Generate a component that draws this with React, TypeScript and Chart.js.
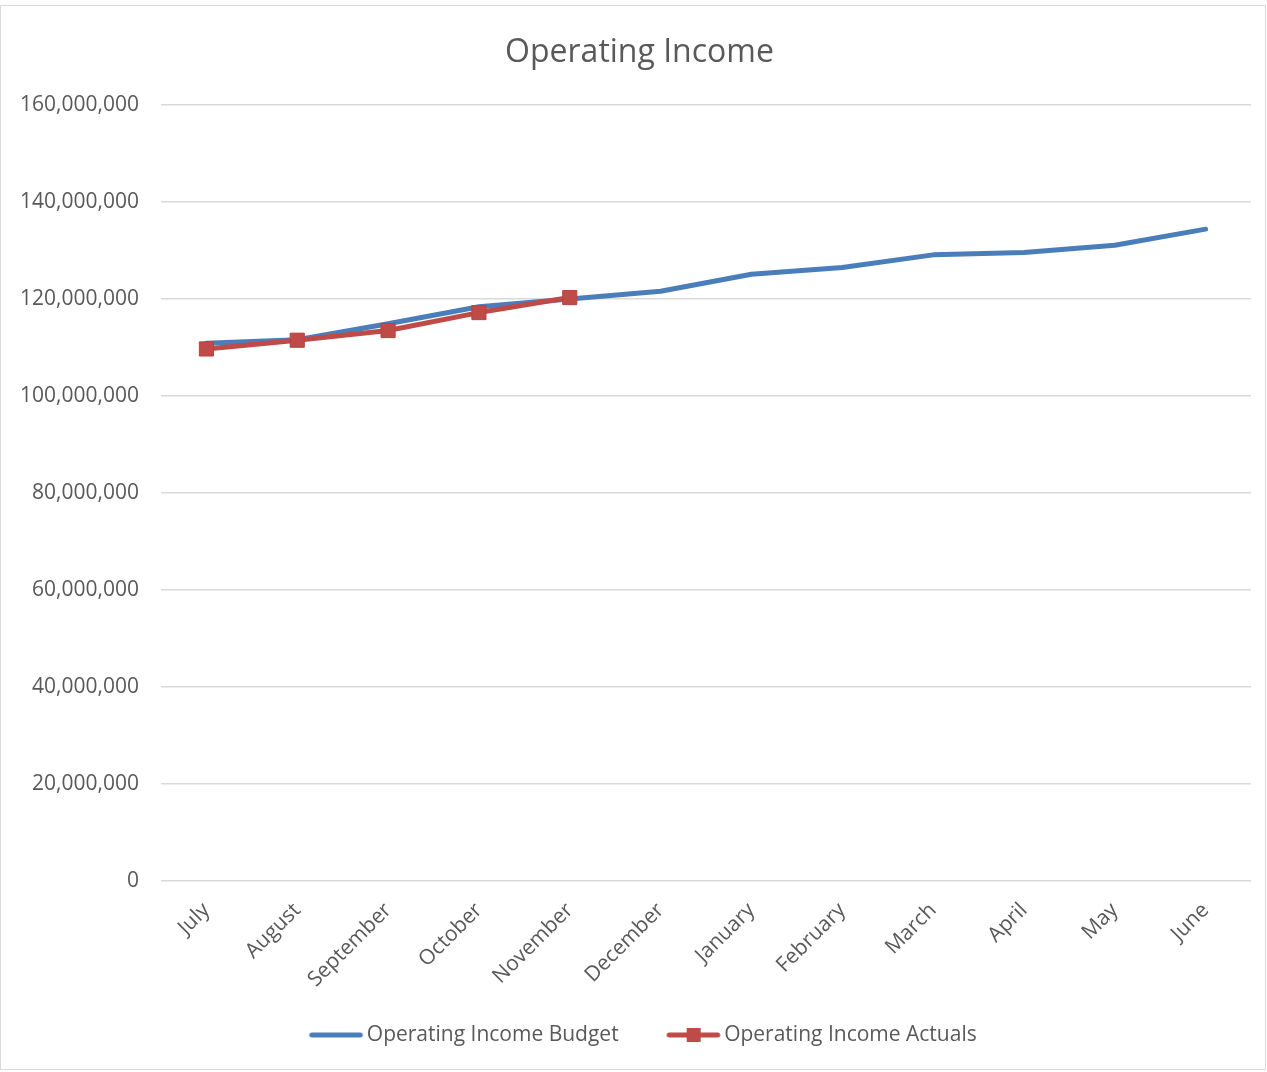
import { useEffect, useRef } from "react";
import { Chart, registerables } from "chart.js";

Chart.register(...registerables);

// values in units
const months = [
  "July", "August", "September", "October", "November", "December",
  "January", "February", "March", "April", "May", "June",
];
const budget = [
  110900000, 111600000, 114900000, 118400000, 120000000, 121600000,
  125100000, 126500000, 129100000, 129600000, 131100000, 134400000,
];
const actuals = [
  109700000, 111500000, 113500000, 117200000, 120300000,
  null, null, null, null, null, null, null,
];
const seriesNames = ["Operating Income Budget", "Operating Income Actuals"];

const BLUE = "#4a7ebb";
const RED = "#be4b48";
const TEXT = "#595959";
const FONT = "'Open Sans', sans-serif";

// legend swatch: line (with optional square marker), drawn off-centre so the
// gap between legend entries looks like Excel's
function legendIcon(color: string, marker: boolean) {
  const c = document.createElement("canvas");
  c.width = 70;
  c.height = 16;
  const g = c.getContext("2d")!;
  g.strokeStyle = color;
  g.lineWidth = 5;
  g.lineCap = "round";
  g.beginPath();
  g.moveTo(17.5, 8);
  g.lineTo(66, 8);
  g.stroke();
  if (marker) {
    g.fillStyle = color;
    g.fillRect(35, 1, 14, 14);
  }
  return c;
}

// tick labels hang outside their axis box; don't clip them
const noLabelClip = {
  id: "noLabelClip",
  beforeDraw(c: any) {
    Object.values(c.scales).forEach((s: any) => {
      s._computeLabelArea = () => undefined;
    });
  },
};

export default function App() {
  const canvasRef = useRef<HTMLCanvasElement>(null);

  useEffect(() => {
    if (!canvasRef.current) return;
    const icons = [legendIcon(BLUE, false), legendIcon(RED, true)];

    const chart = new Chart(canvasRef.current, {
      type: "line",
      data: {
        labels: months,
        datasets: [
          {
            label: seriesNames[0],
            data: budget,
            borderColor: BLUE,
            backgroundColor: BLUE,
            borderWidth: 5,
            borderCapStyle: "round",
            borderJoinStyle: "round",
            pointRadius: 0,
            tension: 0,
            order: 2,
          },
          {
            label: seriesNames[1],
            data: actuals,
            borderColor: RED,
            backgroundColor: RED,
            borderWidth: 5,
            borderCapStyle: "round",
            borderJoinStyle: "round",
            pointStyle: "rect",
            pointRadius: 10,
            pointBorderWidth: 1,
            pointBorderColor: "#b8433f",
            pointBackgroundColor: RED,
            tension: 0,
            spanGaps: false,
            order: 1,
          },
        ],
      },
      options: {
        animation: false,
        responsive: false,
        layout: { padding: { left: 28, right: 16, top: 0, bottom: 16.5 } },
        scales: {
          x: {
            offset: true,
            grid: { display: false },
            border: { display: false },
            ticks: {
              color: TEXT,
              font: { family: FONT, size: 21 },
              minRotation: 45,
              maxRotation: 45,
              padding: 9,
            },
            afterFit: (s: any) => {
              s.height = 102.5;
            },
          },
          y: {
            min: 0,
            max: 160000000,
            grid: { color: "#d9d9d9", lineWidth: 1.5, drawTicks: false },
            border: { display: false },
            ticks: {
              stepSize: 20000000,
              color: TEXT,
              font: { family: FONT, size: 21 },
              padding: 22,
              callback: (v: any) => Number(v).toLocaleString("en-US"),
            },
            afterFit: (s: any) => {
              s.width = 133;
            },
          },
        },
        plugins: {
          title: {
            display: true,
            text: "Operating Income",
            color: TEXT,
            font: { family: FONT, size: 32, weight: "normal" },
            padding: { top: 33.4, bottom: 33.2 },
          },
          legend: {
            position: "bottom",
            labels: {
              color: TEXT,
              font: { family: FONT, size: 21 },
              usePointStyle: true,
              pointStyleWidth: 54,
              padding: 41,
              generateLabels: (ch: any) =>
                ch.data.datasets.map((ds: any, i: number) => ({
                  text: ds.label,
                  fontColor: TEXT,
                  pointStyle: icons[i],
                  datasetIndex: i,
                  hidden: false,
                  lineWidth: 0,
                  strokeStyle: "transparent",
                  fillStyle: "transparent",
                })),
            },
          },
          tooltip: { enabled: false },
        },
      },
      plugins: [noLabelClip],
    });

    return () => chart.destroy();
  }, []);

  return (
    <div style={{ position: "fixed", left: 0, top: 0, width: 1267, height: 1072, background: "#fff" }}>
      <div
        style={{
          position: "absolute",
          left: 0,
          top: 5,
          width: 1264,
          height: 1063,
          border: "1px solid #d9d9d9",
        }}
      />
      <canvas
        ref={canvasRef}
        width={1267}
        height={1072}
        style={{ position: "absolute", left: 0, top: 0, width: 1267, height: 1072 }}
      />
    </div>
  );
}
